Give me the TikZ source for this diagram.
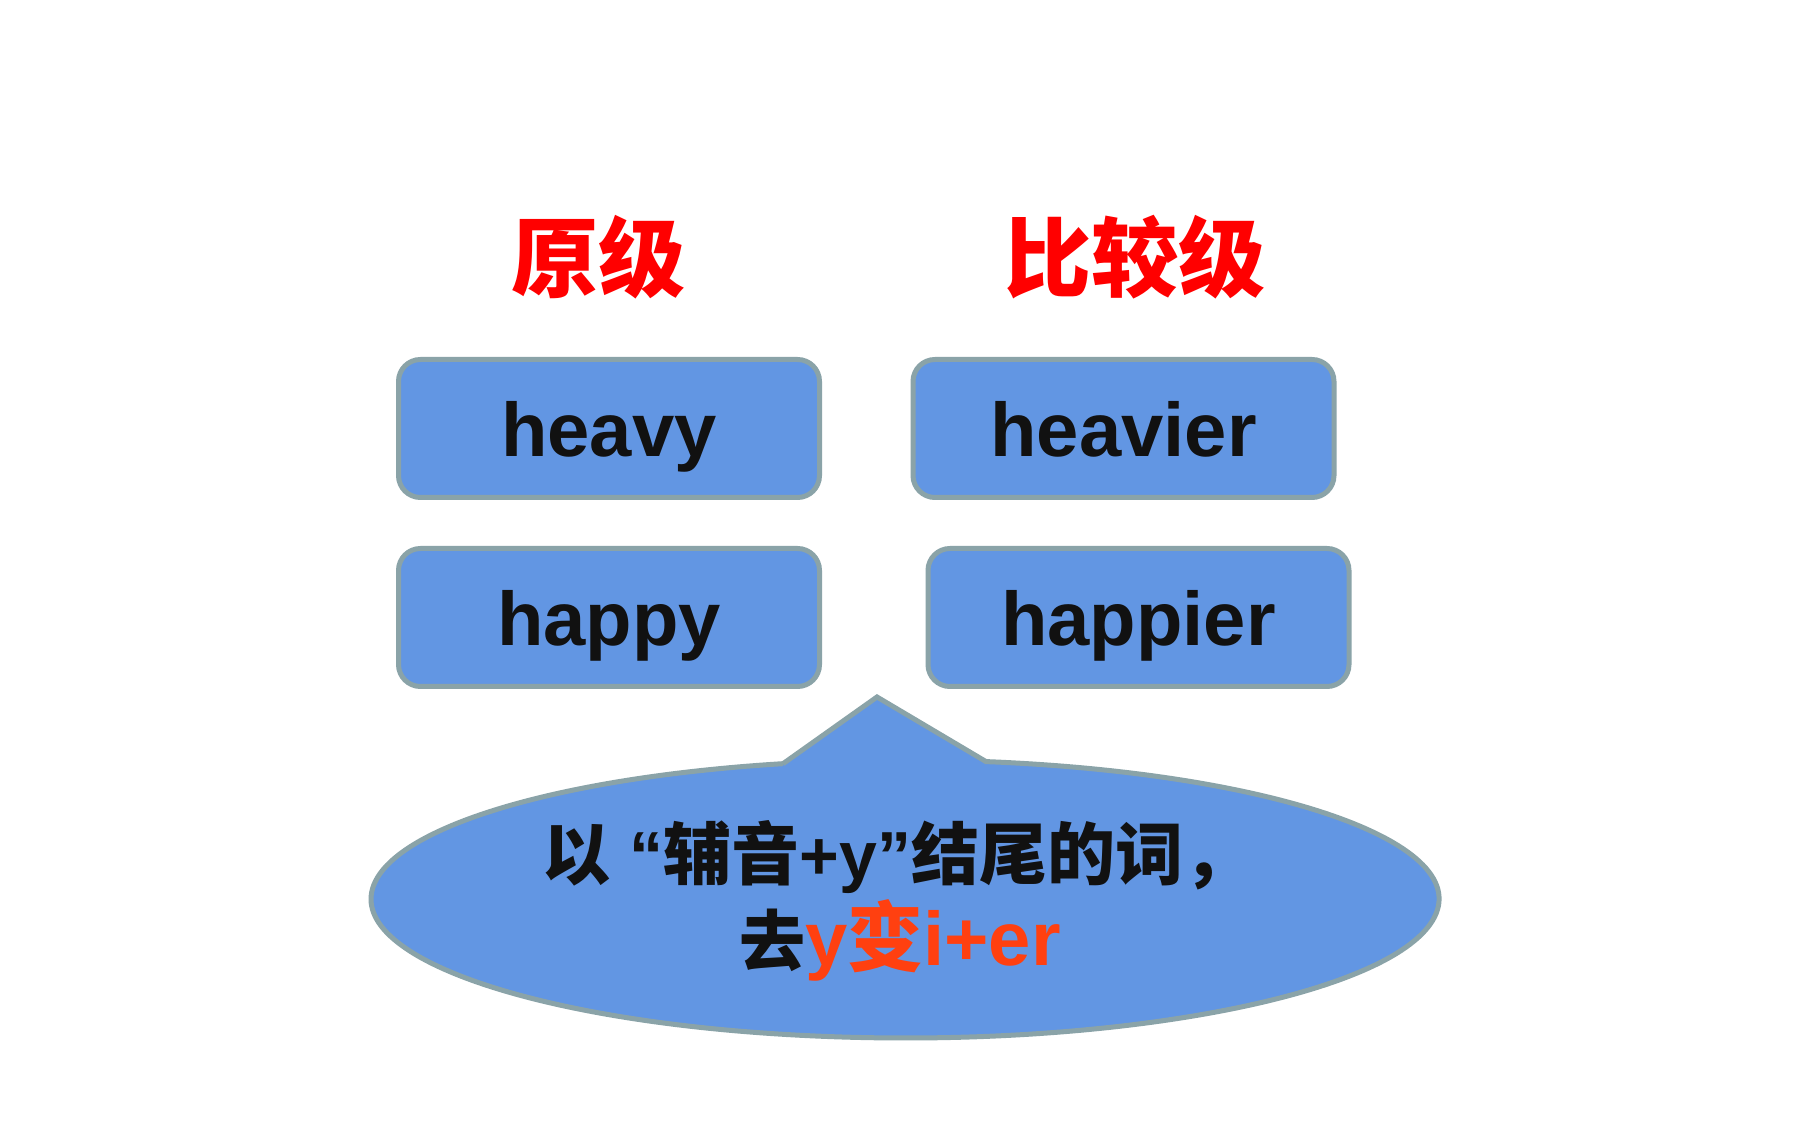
\documentclass[tikz,border=0pt]{standalone}
\usepackage{fontspec}
\setmainfont{Liberation Sans}
\newfontfamily\cjk{Noto Sans CJK SC}
\definecolor{boxfill}{HTML}{6296E3}
\definecolor{boxline}{HTML}{8AA3A8}
\definecolor{titlered}{HTML}{FF0000}
\definecolor{rulered}{HTML}{FF4010}
\definecolor{inkblack}{HTML}{111111}
\tikzset{
  wordbox/.style={draw=boxline, line width=5pt, fill=boxfill, rounded corners=22pt,
    minimum width=421pt, minimum height=138pt, inner sep=0pt,
    text height=56pt, text depth=0pt, text=inkblack,
    font=\fontsize{76}{90}\selectfont\bfseries},
  titletext/.style={anchor=base, inner sep=0pt, text=titlered,
    font=\fontsize{87}{100}\selectfont\cjk\bfseries},
  bubble/.style={draw=boxline, line width=5pt, fill=boxfill, line join=miter},
  ruletext/.style={anchor=base, inner sep=0pt, text=inkblack}
}
\begin{document}
\begin{tikzpicture}[x=1pt,y=1pt]
\useasboundingbox[fill=white] (0,0) rectangle (1800,1125);
% titles
\node[titletext] (t1) at (598,834) {原级};
\node[titletext] (t2) at (1135,834) {比较级};
% word boxes
\node[wordbox] (heavy) at (609,696.5) {heavy};
\node[wordbox] (heavier) at (1123.5,696.5) {heavier};
\node[wordbox] (happy) at (609,507.5) {happy};
\node[wordbox] (happier) at (1138.5,507.5) {happier};
% callout bubble
\coordinate (apex) at (877,428);
\coordinate (bl) at (783,361.3);
\coordinate (br) at (986,363.4);
\draw[bubble] (bl) -- (apex) -- (br)
  arc[start angle=81.28, end angle=-256.79, x radius=534, y radius=139] -- cycle;
% bubble text
\node[ruletext] (line1) at (897,245) {\fontsize{68}{80}\selectfont\bfseries
  {\cjk 以} “{\cjk 辅音}+y”{\cjk 结尾的词，}};
\node[ruletext] (line2) at (900,159) {\bfseries
  {\fontsize{66}{80}\selectfont\cjk 去}{\fontsize{76}{90}\selectfont\color{rulered}y{\cjk 变}i+er}};
\end{tikzpicture}
\end{document}
